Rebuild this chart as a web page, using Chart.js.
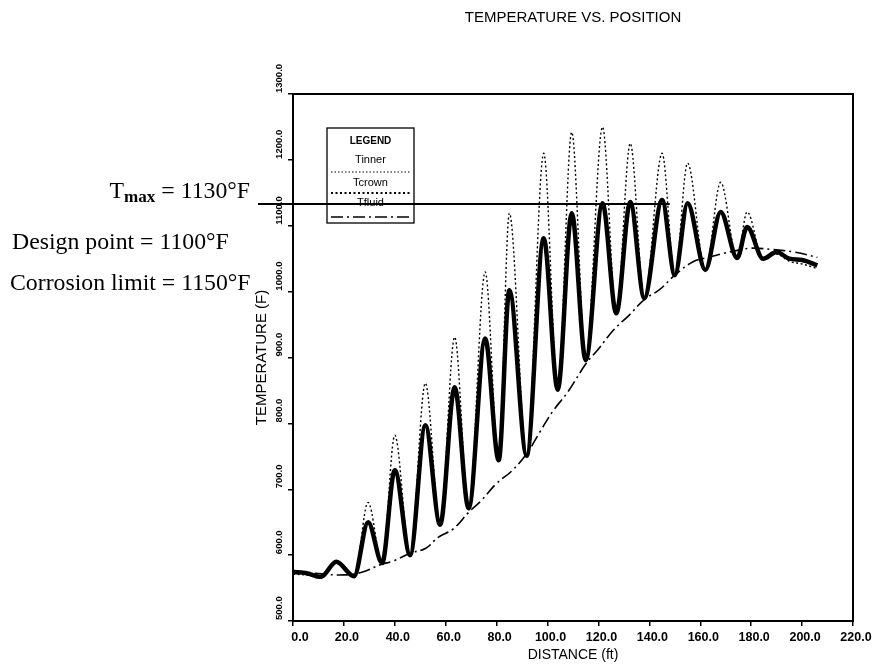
<!DOCTYPE html>
<html><head><meta charset="utf-8">
<script src="https://cdn.jsdelivr.net/npm/chart.js@4.4.0/dist/chart.umd.min.js"></script>
<style>html,body{margin:0;padding:0;background:#fff}#c{display:block}</style>
</head><body>
<canvas id="c" width="873" height="667"></canvas>
<script>
// ---------- data ----------
const chartTitle = 'TEMPERATURE VS. POSITION';
const xTitle = 'DISTANCE (ft)';
const yTitle = 'TEMPERATURE (F)';
const xTicks = [0, 20, 40, 60, 80, 100, 120, 140, 160, 180, 200, 220];
const xTickLabels = ['0.0','20.0','40.0','60.0','80.0','100.0','120.0','140.0','160.0','180.0','200.0','220.0'];
const yTicks = [500, 600, 700, 800, 900, 1000, 1100, 1200, 1300];
const yTickLabels = ['500.0','600.0','700.0','800.0','900.0','1000.0','1100.0','1200.0','1300.0'];

// distance (ft) for wall temperature profiles
const profileX = [0, 5, 11, 17, 24, 29.5, 35, 40, 46, 52, 57.8, 63.5, 69, 75.5, 80.8, 85, 91.8, 98.5, 104,
  109.5, 115, 121.6, 127, 132.5, 138, 145, 150, 155, 162, 168, 174.5, 178.4, 184.7, 190, 195, 200, 206];
const tCrown = [574, 573, 567, 590, 568, 650, 588, 729, 600, 797, 646, 855, 671, 929, 744, 1002, 751, 1081, 851,
  1119, 896, 1134, 967, 1136, 990, 1139, 1025, 1134, 1033, 1121, 1051, 1098, 1050, 1060, 1050, 1048, 1040];
const tInner = [571, 570, 565, 591, 566, 680, 587, 782, 599, 861, 645, 931, 670, 1030, 743, 1119, 750, 1210, 850,
  1242, 895, 1250, 966, 1225, 989, 1210, 1024, 1195, 1032, 1166, 1050, 1121, 1049, 1057, 1046, 1042, 1035];

const fluidX = [0, 10, 20, 27, 34, 40, 46, 52, 57, 63, 69, 74, 80, 86, 92, 97, 102, 108, 115, 120, 126, 132,
  138, 144, 150, 157, 163, 169, 175, 180, 188, 197, 206];
const tFluid = [577, 572, 570, 574, 585, 592, 603, 610, 627, 640, 665, 683, 709, 728, 755, 787, 818, 848, 890, 913,
  942, 964, 988, 1003, 1025, 1045, 1052, 1058, 1063, 1066, 1064, 1060, 1052];

const tMax = 1133;          // horizontal T_max line
const tMaxEndX = 148;       // where the T_max line stops (ft)
const legendTitle = 'LEGEND';
const legendNames = ['Tinner', 'Tcrown', 'Tfluid'];
const notes = ['Design point = 1100\u00B0F', 'Corrosion limit = 1150\u00B0F'];
const tMaxNote = ['T', 'max', ' = 1130\u00B0F'];

// ---------- styles ----------
const SANS = '"Liberation Sans", "DejaVu Sans", sans-serif';
const SERIF = '"Liberation Serif", "DejaVu Serif", serif';
const styles = {
  inner: {borderWidth: 1.4, borderDash: [2, 2.5]},
  crown: {borderWidth: 4.5, borderDash: []},
  fluid: {borderWidth: 1.6, borderDash: [12, 4, 2, 4]}
};

const pts = (xs, ys) => xs.map((x, i) => ({x: x, y: ys[i]}));

const overlay = {
  id: 'overlay',
  afterDraw(chart) {
    const ctx = chart.ctx;
    const a = chart.chartArea;
    const xs = chart.scales.x, ys = chart.scales.y;
    ctx.save();
    // frame
    ctx.strokeStyle = '#000';
    ctx.lineWidth = 2;
    ctx.strokeRect(a.left, a.top, a.right - a.left, a.bottom - a.top);

    // title
    ctx.fillStyle = '#000';
    ctx.font = '15px ' + SANS;
    ctx.textAlign = 'center';
    ctx.textBaseline = 'middle';
    ctx.fillText(chartTitle, 573, 18);

    // x tick labels
    ctx.font = 'bold 12.5px ' + SANS;
    ctx.textBaseline = 'middle';
    ctx.textAlign = 'center';
    xTicks.forEach((v, i) => {
      const x = xs.getPixelForValue(v);
      ctx.fillText(xTickLabels[i], x + (i === 0 ? 7 : 3), 638);
    });

    // rotated y tick labels, starting at the tick and running upward
    ctx.font = 'bold 9.5px ' + SANS;
    yTicks.forEach((v, i) => {
      const y = ys.getPixelForValue(v);
      ctx.save();
      ctx.translate(279, y - 1);
      ctx.rotate(-Math.PI / 2);
      ctx.textAlign = 'left';
      ctx.textBaseline = 'middle';
      ctx.fillText(yTickLabels[i], 0, 0);
      ctx.restore();
    });

    // legend box
    const L = {x: 327, y: 128, w: 87, h: 95};
    ctx.fillStyle = '#fff';
    ctx.fillRect(L.x, L.y, L.w, L.h);
    ctx.strokeStyle = '#000';
    ctx.lineWidth = 1.3;
    ctx.strokeRect(L.x, L.y, L.w, L.h);
    ctx.fillStyle = '#000';
    ctx.textAlign = 'center';
    ctx.font = 'bold 10px ' + SANS;
    ctx.fillText(legendTitle, L.x + L.w / 2, 141);
    ctx.font = '11px ' + SANS;
    const rows = [
      {t: 160, l: 172, st: {borderWidth: 1, borderDash: [1.5, 2]}},
      {t: 183, l: 193, st: {borderWidth: 2, borderDash: [2, 2.5]}},
      {t: 203, l: 217, st: {borderWidth: 1.6, borderDash: [12, 4, 2, 4]}}
    ];
    rows.forEach((r, i) => {
      ctx.fillText(legendNames[i], L.x + L.w / 2, r.t);
      ctx.beginPath();
      ctx.lineWidth = r.st.borderWidth;
      ctx.setLineDash(r.st.borderDash);
      ctx.moveTo(L.x + 4, r.l);
      ctx.lineTo(L.x + L.w - 4, r.l);
      ctx.stroke();
    });
    ctx.setLineDash([]);

    // T_max line
    const yMax = ys.getPixelForValue(tMax);
    ctx.beginPath();
    ctx.lineWidth = 2;
    ctx.moveTo(258, yMax);
    ctx.lineTo(xs.getPixelForValue(tMaxEndX), yMax);
    ctx.stroke();

    // left annotations (serif)
    const fit = (txt, size, target) => {
      ctx.font = size + 'px ' + SERIF;
      return size * target / ctx.measureText(txt).width;
    };
    const s1 = fit(notes[0], 19, 217);
    ctx.textAlign = 'left';
    ctx.textBaseline = 'alphabetic';
    ctx.font = s1 + 'px ' + SERIF;
    ctx.fillText(notes[0], 12, 249);
    ctx.fillText(notes[1], 10, 290);
    // T_max note, right aligned at 250
    ctx.font = s1 + 'px ' + SERIF;
    const wT = ctx.measureText(tMaxNote[0]).width;
    const wR = ctx.measureText(tMaxNote[2]).width;
    ctx.font = 'bold ' + (s1 * 0.72) + 'px ' + SERIF;
    const wM = ctx.measureText(tMaxNote[1]).width;
    let x0 = 250 - (wT + wM + wR);
    ctx.font = s1 + 'px ' + SERIF;
    ctx.fillText(tMaxNote[0], x0, 198);
    ctx.font = 'bold ' + (s1 * 0.72) + 'px ' + SERIF;
    ctx.fillText(tMaxNote[1], x0 + wT, 202);
    ctx.font = s1 + 'px ' + SERIF;
    ctx.fillText(tMaxNote[2], x0 + wT + wM, 198);
    ctx.restore();
  }
};

new Chart(document.getElementById('c'), {
  type: 'line',
  data: {
    datasets: [
      Object.assign({label: legendNames[0], data: pts(profileX, tInner), borderColor: '#000', pointRadius: 0,
        fill: false, cubicInterpolationMode: 'monotone'}, styles.inner),
      Object.assign({label: legendNames[1], data: pts(profileX, tCrown), borderColor: '#000', pointRadius: 0,
        fill: false, cubicInterpolationMode: 'monotone'}, styles.crown),
      Object.assign({label: legendNames[2], data: pts(fluidX, tFluid), borderColor: '#000', pointRadius: 0,
        fill: false, tension: 0.4}, styles.fluid)
    ]
  },
  options: {
    responsive: false,
    animation: false,
    devicePixelRatio: 1,
    layout: {padding: {left: 240, right: 20, top: 94, bottom: 0}},
    plugins: {legend: {display: false}, tooltip: {enabled: false}, title: {display: false}},
    scales: {
      x: {
        type: 'linear', min: xTicks[0], max: xTicks[xTicks.length - 1],
        afterBuildTicks: s => { s.ticks = xTicks.map(v => ({value: v})); },
        afterFit: s => { s.height = 46; },
        grid: {drawOnChartArea: false, drawTicks: true, tickLength: 5, color: '#000', lineWidth: 1.5},
        border: {display: true, color: '#000', width: 2},
        ticks: {display: false},
        title: {display: true, text: xTitle, color: '#000', font: {family: SANS, size: 14}, padding: {top: 0, bottom: 3}}
      },
      y: {
        type: 'linear', min: yTicks[0], max: yTicks[yTicks.length - 1],
        afterBuildTicks: s => { s.ticks = yTicks.map(v => ({value: v})); },
        afterFit: s => { s.width = 53; },
        grid: {drawOnChartArea: false, drawTicks: true, tickLength: 5, color: '#000', lineWidth: 1.5},
        border: {display: true, color: '#000', width: 2},
        ticks: {display: false},
        title: {display: true, text: yTitle, color: '#000', font: {family: SANS, size: 15}, padding: {top: 13, bottom: 0}}
      }
    }
  },
  plugins: [overlay]
});
</script>
</body></html>
